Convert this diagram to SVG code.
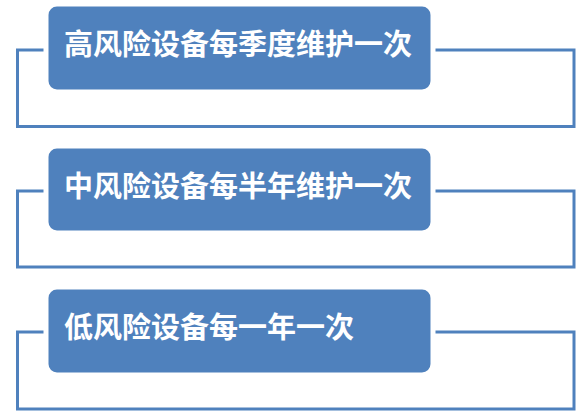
<svg xmlns="http://www.w3.org/2000/svg" width="586" height="415" viewBox="0 0 586 415">
<style>
.frame{fill:none;stroke:#4f81bd;stroke-width:3}
.label{fill:#4f81bd;stroke:#ffffff;stroke-width:5}
.txt{fill:#ffffff;font-family:"Noto Sans CJK SC","Noto Sans",sans-serif;font-weight:bold;font-size:29px}
</style>
<rect width="586" height="415" fill="#ffffff"/>
<g id="connectors">
<rect class="frame" x="17.5" y="50" width="556.5" height="76.5"/>
<rect class="frame" x="17.5" y="191" width="556.5" height="76"/>
<rect class="frame" x="17.5" y="332" width="556.5" height="77"/>
</g>
<g id="node1">
<rect class="label" x="46" y="4" width="387" height="88" rx="11"/>
<text class="txt" x="64" y="55">高风险设备每季度维护一次</text>
</g>
<g id="node2">
<rect class="label" x="46" y="146" width="387" height="87" rx="11"/>
<text class="txt" x="64" y="197">中风险设备每半年维护一次</text>
</g>
<g id="node3">
<rect class="label" x="46" y="287" width="387" height="88" rx="11"/>
<text class="txt" x="64" y="338">低风险设备每一年一次</text>
</g>
</svg>
